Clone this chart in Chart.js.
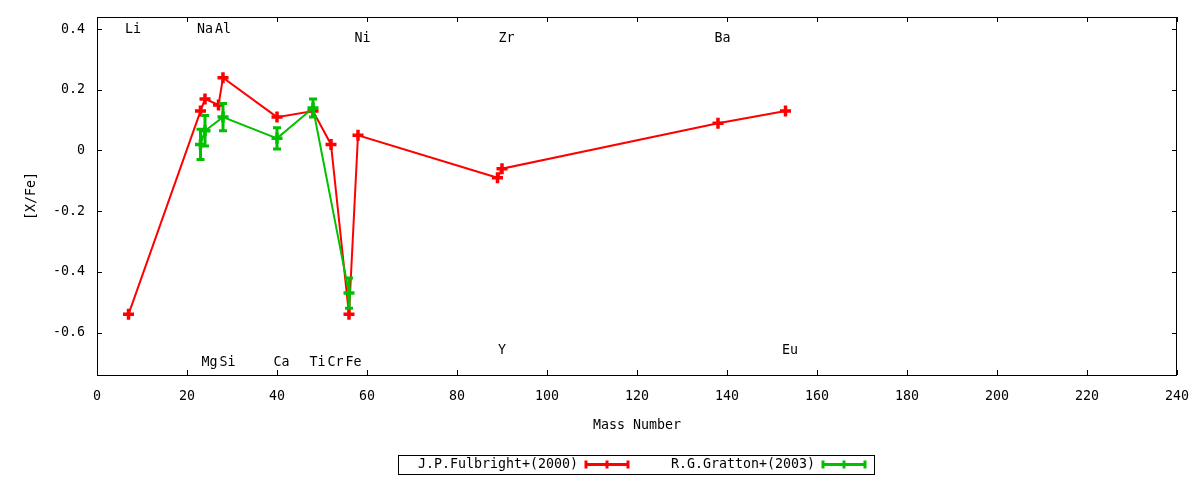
<!DOCTYPE html>
<html>
<head>
<meta charset="utf-8">
<script src="https://cdn.jsdelivr.net/npm/chart.js@4/dist/chart.umd.min.js"></script>
<style>
html, body { margin: 0; padding: 0; background: #fff; }
#wrap { width: 1200px; height: 480px; }
</style>
</head>
<body>
<div id="wrap"><canvas id="chart" width="1200" height="480"></canvas></div>
<script>
// Fulbright (2000) abundances
const fulbrightMass = [7, 23, 24, 27, 28, 40, 48, 52, 56, 58, 89, 90, 138, 153];
const fulbrightVal = [-0.54, 0.13, 0.17, 0.15, 0.24, 0.11, 0.13, 0.02, -0.54, 0.05, -0.09, -0.06, 0.09, 0.13];

// Gratton (2003) abundances with errors
const grattonMass = [23, 24, 28, 40, 48, 56];
const grattonVal = [0.02, 0.065, 0.11, 0.04, 0.14, -0.47];
const grattonErr = [0.05, 0.05, 0.045, 0.035, 0.03, 0.05];

// element labels
const elemNames = ['Li', 'Na', 'Al', 'Ni', 'Zr', 'Ba', 'Mg', 'Si', 'Ca', 'Ti', 'Cr', 'Fe', 'Y', 'Eu'];
const elemMass = [7, 23, 27, 58, 90, 138, 24, 28, 40, 48, 52, 56, 89, 153];
const elemLabelY = [0.40, 0.40, 0.40, 0.37, 0.37, 0.37, -0.70, -0.70, -0.70, -0.70, -0.70, -0.70, -0.66, -0.66];

const seriesNames = ['J.P.Fulbright+(2000)', 'R.G.Gratton+(2003)'];
const xTitle = 'Mass Number';
const yTitle = '[X/Fe]';

const RED = '#ff0000';
const GREEN = '#00c000';
const FONT = "'DejaVu Sans Mono', monospace";
const FSIZE = 13.3;

Chart.defaults.font.family = FONT;
Chart.defaults.font.size = FSIZE;
Chart.defaults.color = '#000';

function toPoints(xs, ys) {
    return xs.map((x, i) => ({x: x, y: ys[i]}));
}

function drawCross(ctx, x, y, r, color, w) {
    ctx.strokeStyle = color;
    ctx.lineWidth = w;
    ctx.beginPath();
    ctx.moveTo(x - r, y); ctx.lineTo(x + r, y);
    ctx.moveTo(x, y - r); ctx.lineTo(x, y + r);
    ctx.stroke();
}

// box, inward ticks on all four sides
const framePlugin = {
    id: 'frame',
    beforeDatasetsDraw(chart) {
        const {ctx, chartArea: a, scales} = chart;
        ctx.save();
        ctx.strokeStyle = '#000';
        ctx.lineWidth = 1;
        ctx.strokeRect(a.left + 0.5, a.top + 0.5, a.right - a.left - 1, a.bottom - a.top);
        ctx.beginPath();
        scales.x.ticks.forEach(t => {
            const px = Math.round(scales.x.getPixelForValue(t.value)) + 0.5;
            ctx.moveTo(px, a.bottom); ctx.lineTo(px, a.bottom - 5);
            ctx.moveTo(px, a.top); ctx.lineTo(px, a.top + 5);
        });
        scales.y.ticks.forEach(t => {
            const py = Math.round(scales.y.getPixelForValue(t.value)) + 0.5;
            ctx.moveTo(a.left, py); ctx.lineTo(a.left + 5, py);
            ctx.moveTo(a.right, py); ctx.lineTo(a.right - 5, py);
        });
        ctx.stroke();

        // element labels
        ctx.fillStyle = '#000';
        ctx.font = FSIZE + 'px ' + FONT;
        ctx.textAlign = 'center';
        ctx.textBaseline = 'middle';
        elemNames.forEach((n, i) => {
            ctx.fillText(n, scales.x.getPixelForValue(elemMass[i] + 1), scales.y.getPixelForValue(elemLabelY[i]));
        });
        ctx.restore();
    },
    afterDatasetDraw(chart, args) {
        if (args.index !== 1) return;
        const {ctx, scales} = chart;
        ctx.save();
        ctx.strokeStyle = GREEN;
        ctx.lineWidth = 3;
        grattonMass.forEach((m, i) => {
            const px = scales.x.getPixelForValue(m);
            const top = scales.y.getPixelForValue(grattonVal[i] + grattonErr[i]);
            const bot = scales.y.getPixelForValue(grattonVal[i] - grattonErr[i]);
            ctx.beginPath();
            ctx.moveTo(px, top); ctx.lineTo(px, bot);
            ctx.moveTo(px - 4, top); ctx.lineTo(px + 4, top);
            ctx.moveTo(px - 4, bot); ctx.lineTo(px + 4, bot);
            ctx.stroke();
        });
        ctx.restore();
    },
    afterDraw(chart) {
        const {ctx, chartArea: a} = chart;
        ctx.save();
        ctx.fillStyle = '#000';
        ctx.font = FSIZE + 'px ' + FONT;
        ctx.textAlign = 'center';
        ctx.textBaseline = 'middle';
        ctx.fillText(xTitle, (a.left + a.right) / 2, 426);
        ctx.translate(32, (a.top + a.bottom) / 2);
        ctx.rotate(-Math.PI / 2);
        ctx.fillText(yTitle, 0, 0);
        ctx.restore();

        // legend
        ctx.save();
        ctx.strokeStyle = '#000';
        ctx.lineWidth = 1;
        ctx.strokeRect(398.5, 455.5, 476, 19);
        ctx.font = FSIZE + 'px ' + FONT;
        ctx.fillStyle = '#000';
        ctx.textAlign = 'right';
        ctx.textBaseline = 'middle';
        const items = [[578, RED], [815, GREEN]];
        items.forEach((it, i) => {
            const tx = it[0], col = it[1], y = 464.5;
            ctx.fillText(seriesNames[i], tx, y);
            ctx.strokeStyle = col;
            ctx.lineWidth = 3;
            ctx.beginPath();
            ctx.moveTo(tx + 8, y); ctx.lineTo(tx + 50, y);
            ctx.moveTo(tx + 8, y - 4); ctx.lineTo(tx + 8, y + 4);
            ctx.moveTo(tx + 50, y - 4); ctx.lineTo(tx + 50, y + 4);
            ctx.stroke();
            drawCross(ctx, tx + 29, y, 4, col, 3);
        });
        ctx.restore();
    }
};

const ctx = document.getElementById('chart').getContext('2d');
new Chart(ctx, {
    type: 'line',
    data: {
        datasets: [
            {
                label: seriesNames[0],
                data: toPoints(fulbrightMass, fulbrightVal),
                borderColor: RED,
                backgroundColor: RED,
                borderWidth: 2,
                pointStyle: 'cross',
                pointRadius: 5.5,
                pointBorderWidth: 3.5,
                tension: 0,
                order: 2
            },
            {
                label: seriesNames[1],
                data: toPoints(grattonMass, grattonVal),
                borderColor: GREEN,
                backgroundColor: GREEN,
                borderWidth: 2,
                pointStyle: 'cross',
                pointRadius: 5.5,
                pointBorderWidth: 3.5,
                tension: 0,
                order: 1
            }
        ]
    },
    options: {
        responsive: false,
        animation: false,
        layout: { padding: { top: 17, right: 23, left: 0, bottom: 0 } },
        plugins: {
            legend: { display: false },
            tooltip: { enabled: false }
        },
        scales: {
            x: {
                type: 'linear',
                min: 0,
                max: 240,
                grid: { display: false, drawTicks: false },
                border: { display: false },
                ticks: { stepSize: 20, padding: 14, maxRotation: 0 },
                afterFit: s => { s.height = 105; s.paddingLeft = 0; s.paddingRight = 0; }
            },
            y: {
                type: 'linear',
                min: -0.74,
                max: 0.44,
                grid: { display: false, drawTicks: false },
                border: { display: false },
                ticks: {
                    stepSize: 0.2,
                    includeBounds: false,
                    padding: 12,
                    callback: v => Math.abs(v) < 1e-9 ? '0' : String(Math.round(v * 10) / 10)
                },
                afterFit: s => { s.width = 97; s.paddingTop = 0; s.paddingBottom = 0; }
            }
        }
    },
    plugins: [framePlugin]
});
</script>
</body>
</html>
